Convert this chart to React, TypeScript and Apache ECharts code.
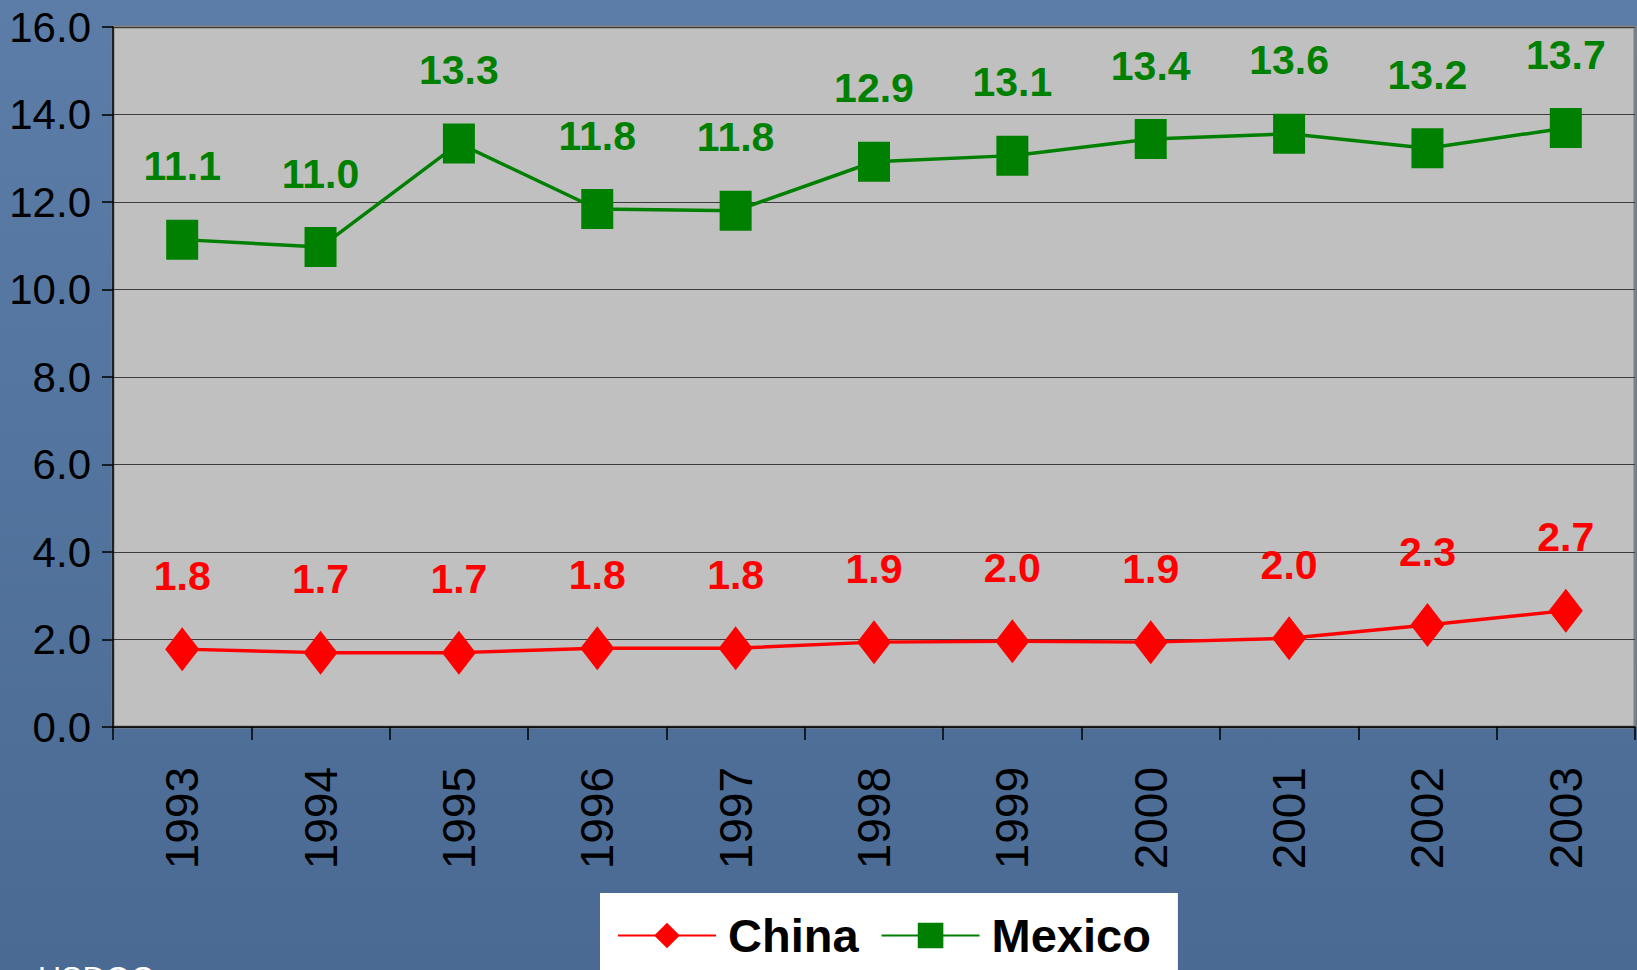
import React, { useEffect, useRef } from "react";
import * as echarts from "echarts";

const years = ["1993", "1994", "1995", "1996", "1997", "1998", "1999", "2000", "2001", "2002", "2003"];
const china = [1.78, 1.7, 1.7, 1.8, 1.8, 1.94, 1.96, 1.94, 2.03, 2.33, 2.66];
const mexico = [11.14, 10.97, 13.34, 11.84, 11.8, 12.92, 13.06, 13.44, 13.56, 13.23, 13.69];
const yMin = 0;
const yMax = 16;
const yStep = 2;
const sourceNote = "USDOC";

const NARROW = '"Liberation Sans Narrow", "Arial Narrow", "Liberation Sans", Arial, sans-serif';
const SANS = '"Liberation Sans", Arial, sans-serif';

export default function App() {
  const ref = useRef<HTMLDivElement>(null);
  useEffect(() => {
    if (!ref.current) return;
    const chart = echarts.init(ref.current, null, { renderer: "svg" });
    const labelStyle = (color: string, distance: number) => ({
      show: true,
      position: "top",
      distance,
      color,
      fontFamily: NARROW,
      fontWeight: "bold",
      fontSize: 41,
      formatter: (p: any) => Number(p.value).toFixed(1),
    });
    chart.setOption({
      animation: false,
      backgroundColor: {
        type: "linear",
        x: 0,
        y: 0,
        x2: 0,
        y2: 1,
        colorStops: [
          { offset: 0, color: "#5b7da7" },
          { offset: 1, color: "#4a6a93" },
        ],
      },
      grid: {
        left: 113,
        top: 27,
        right: 2,
        bottom: 243,
        containLabel: false,
        show: true,
        backgroundColor: "#c0c0c0",
        borderColor: "#808080",
        borderWidth: 3,
      },
      legend: {
        left: 600,
        top: 893,
        orient: "horizontal",
        backgroundColor: "#ffffff",
        borderWidth: 0,
        padding: [19, 27, 40, 17],
        itemGap: 22,
        itemWidth: 98,
        itemHeight: 32,
        textStyle: {
          color: "#000",
          fontFamily: SANS,
          fontWeight: "bold",
          fontSize: 47,
          padding: [0, 0, 0, 7],
        },
        data: ["China", "Mexico"],
      },
      xAxis: {
        type: "category",
        data: years,
        boundaryGap: true,
        axisLine: { show: true, lineStyle: { color: "#000", width: 1.5 } },
        axisTick: { show: true, length: 13, alignWithLabel: false, lineStyle: { color: "#000", width: 1.5 } },
        axisLabel: {
          rotate: 90,
          margin: 40,
          color: "#000",
          fontFamily: SANS,
          fontSize: 46,
        },
        splitLine: { show: false },
      },
      yAxis: {
        type: "value",
        min: yMin,
        max: yMax,
        interval: yStep,
        axisLine: { show: true, lineStyle: { color: "#000", width: 1.5 } },
        axisTick: { show: true, length: 11, lineStyle: { color: "#000", width: 1.5 } },
        axisLabel: {
          margin: 22,
          color: "#000",
          fontFamily: NARROW,
          fontSize: 42,
          formatter: (v: number) => v.toFixed(1),
        },
        splitLine: { show: true, lineStyle: { color: "#3c3c3c", width: 1 } },
      },
      series: [
        {
          name: "China",
          type: "line",
          data: china,
          symbol: "diamond",
          symbolSize: [34, 44],
          itemStyle: { color: "#ff0000" },
          lineStyle: { color: "#ff0000", width: 3.5 },
          label: labelStyle("#ff0000", 31),
          z: 3,
        },
        {
          name: "Mexico",
          type: "line",
          data: mexico,
          symbol: "rect",
          symbolSize: [32, 40],
          itemStyle: { color: "#008000", borderRadius: 2 },
          lineStyle: { color: "#008000", width: 3.5 },
          label: labelStyle("#008000", 33),
          z: 3,
        },
      ],
      graphic: [
        {
          type: "text",
          left: 38,
          top: 962,
          style: {
            text: sourceNote,
            fill: "#ffffff",
            font: `32px ${SANS}`,
          },
        },
      ],
    });
    return () => chart.dispose();
  }, []);
  return (
    <div
      ref={ref}
      style={{ position: "fixed", left: 0, top: 0, width: 1637, height: 970 }}
    />
  );
}
